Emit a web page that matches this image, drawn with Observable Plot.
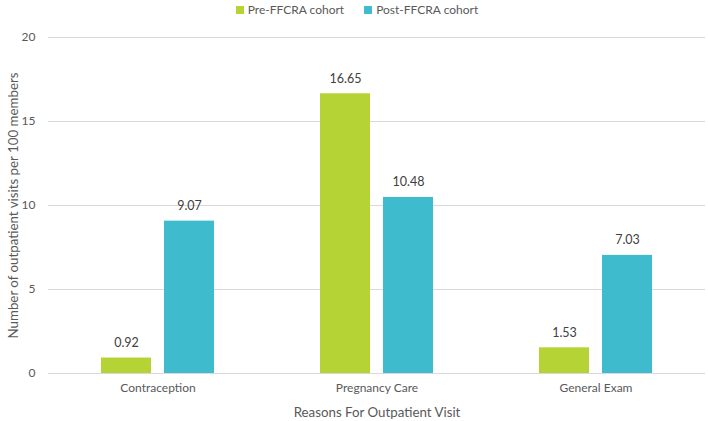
<!DOCTYPE html>
<html>
<head>
<meta charset="utf-8">
<script src="https://cdn.jsdelivr.net/npm/d3@7"></script>
<script src="https://cdn.jsdelivr.net/npm/@observablehq/plot@0.6"></script>
<style>
  body { margin: 0; background: #fff; font-family: Lato, "Open Sans", sans-serif; }
  #legend { height: 18px; display: flex; justify-content: center; align-items: center; gap: 20px; font-size: 12px; color: #595959; padding-left: 6px; }
  #legend span.sw { display: inline-block; width: 8px; height: 8px; margin-right: 4px; }
  g[aria-label="y-axis label"], g[aria-label="x-axis label"] { font-size: 13.3px; }
</style>
</head>
<body>
<div id="legend"></div>
<div id="chart"></div>
<script>
const reasons = ['Contraception', 'Pregnancy Care', 'General Exam']
const cohorts = ['Pre-FFCRA cohort', 'Post-FFCRA cohort']
const preValues = [0.92, 16.65, 1.53]
const postValues = [9.07, 10.48, 7.03]
const yTicks = [0, 5, 10, 15, 20]
const colors = ['#b5d334', '#3ebbcc']

const pre = reasons.map((r, i) => ({reason: r, cohort: cohorts[0], value: preValues[i]}))
const post = reasons.map((r, i) => ({reason: r, cohort: cohorts[1], value: postValues[i]}))

// leyenda arriba
d3.select('#legend').selectAll('div')
  .data(cohorts)
  .join('div')
  .html((d, i) => `<span class="sw" style="background:${colors[i]}"></span>${d}`)

// cada grupo ocupa la banda de x; cada barra toma una mitad con insets
const half = 63
const label = {y: 'value', text: d => d.value.toFixed(2), dy: -15, fill: '#404040', fontSize: 12.5}

let chart = Plot.plot({
  width: 708,
  height: 403,
  marginLeft: 48,
  marginRight: 3,
  marginTop: 19,
  marginBottom: 48,
  style: {fontFamily: 'Lato, "Open Sans", sans-serif', fontSize: '12px', color: '#595959'},
  x: {
    domain: reasons,
    paddingInner: 0.484,
    paddingOuter: 0.242,
    label: 'Reasons For Outpatient Visit',
    labelAnchor: 'center',
    labelArrow: 'none',
    tickSize: 0,
    tickPadding: 10,
    labelOffset: 43,
  },
  y: {
    domain: [0, 20],
    ticks: yTicks,
    label: 'Number of outpatient visits per 100 members',
    labelAnchor: 'center',
    labelArrow: 'none',
    labelOffset: 40,
    tickSize: 0,
    tickPadding: 13,
  },
  color: {domain: cohorts, range: colors},
  marks: [
    Plot.ruleY(yTicks, {stroke: '#d9d9d9', strokeWidth: 1}),
    Plot.barY(pre, {x: 'reason', y: 'value', fill: 'cohort', insetRight: half}),
    Plot.barY(post, {x: 'reason', y: 'value', fill: 'cohort', insetLeft: half}),
    Plot.text(pre, {x: 'reason', dx: -half / 2, ...label}),
    Plot.text(post, {x: 'reason', dx: half / 2, ...label}),
  ]
})
d3.select('#chart').append(() => chart)
</script>
</body>
</html>
